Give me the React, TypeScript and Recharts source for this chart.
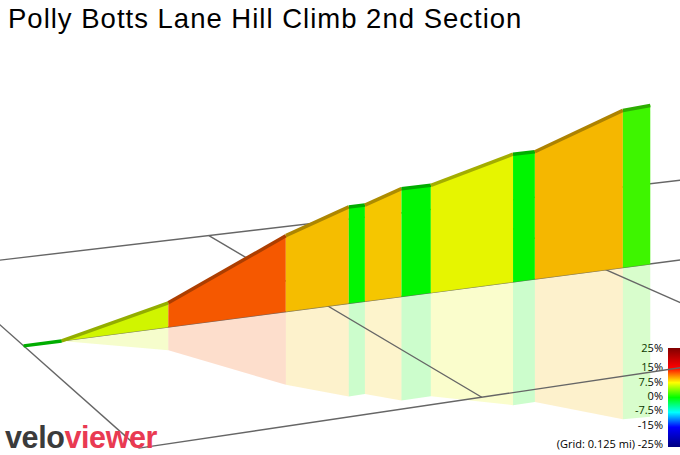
import { ComposedChart, Area, Line, XAxis, YAxis } from 'recharts'

const W = 680
const H = 455

const title = 'Polly Botts Lane Hill Climb 2nd Section'
const gridNote = '(Grid: 0.125 mi)'

// climb profile: distance (mi) and height above the start (m) at each change of gradient
const distMi = [0, 0.015, 0.058, 0.107, 0.134, 0.141, 0.157, 0.17, 0.207, 0.217, 0.258, 0.271]
const elevM = [0, 0, 4.4, 14.1, 18.1, 18.1, 20.4, 20.4, 24.6, 24.6, 30.8, 31.2]

// legend ticks, %
const gradeTicks = [25, 15, 7.5, 0, -7.5, -15, -25]

// gradient colour ramp
const rampGrades = [25, 15, 7.5, 0, -7.5, -15, -25]
const rampColors = ['#800000', '#ff0000', '#ffff00', '#00ff00', '#00ffff', '#0000ff', '#000080']

// ground grid, in 0.125 mi cells (along = parallel to the climb)
const gridMi = 0.125
const alongLines = [-1, 0, 1]
const acrossLines = [0, 1, 2]
const alongSpan = [0, 4]
const acrossSpan = [-1, 1]

// camera: ground grid points and where they land on screen
const viewGround = [[0, 0], [1, 0], [2, 0], [1, -1], [1, 1], [0, 1], [2, 1]]
const viewScreen = [[22, 347], [328, 305], [605, 271], [210, 235], [480, 397], [141, 448], [792, 351]]
const pxPerMetre = 5.6
const mirrorScale = 0.965

function solve(A: number[][], b: number[]) {
  const n = b.length
  const M = A.map((r, i) => [...r, b[i]])
  for (let c = 0; c < n; c++) {
    let p = c
    for (let r = c + 1; r < n; r++) if (Math.abs(M[r][c]) > Math.abs(M[p][c])) p = r
    const tmp = M[c]
    M[c] = M[p]
    M[p] = tmp
    for (let r = 0; r < n; r++) {
      if (r === c) continue
      const f = M[r][c] / M[c][c]
      for (let k = c; k <= n; k++) M[r][k] -= f * M[c][k]
    }
  }
  return M.map((r, i) => r[n] / r[i])
}

// least-squares homography from the calibration points
function fitView() {
  const A: number[][] = []
  const b: number[] = []
  viewGround.forEach(([u, v], i) => {
    const [x, y] = viewScreen[i]
    A.push([u, v, 1, 0, 0, 0, -u * x, -v * x])
    b.push(x)
    A.push([0, 0, 0, u, v, 1, -u * y, -v * y])
    b.push(y)
  })
  const AtA = Array.from({ length: 8 }, (_, r) =>
    Array.from({ length: 8 }, (_, c) => A.reduce((s, row) => s + row[r] * row[c], 0)),
  )
  const Atb = Array.from({ length: 8 }, (_, r) => A.reduce((s, row, k) => s + row[r] * b[k], 0))
  return solve(AtA, Atb)
}

const hm = fitView()
function project(u: number, v: number) {
  const w = hm[6] * u + hm[7] * v + 1
  return { x: (hm[0] * u + hm[1] * v + hm[2]) / w, y: (hm[3] * u + hm[4] * v + hm[5]) / w, w }
}
const w0 = project(0, 0).w

const hexRgb = (h: string) => [1, 3, 5].map((i) => parseInt(h.slice(i, i + 2), 16))
const rgbHex = (c: number[]) =>
  '#' + c.map((v) => Math.max(0, Math.min(255, Math.round(v))).toString(16).padStart(2, '0')).join('')

function gradeRgb(g: number) {
  const x = Math.max(-25, Math.min(25, g))
  for (let i = 0; i < rampGrades.length - 1; i++) {
    const hi = rampGrades[i]
    const lo = rampGrades[i + 1]
    if (x <= hi && x >= lo) {
      const t = (hi - x) / (hi - lo)
      const a = hexRgb(rampColors[i])
      const b = hexRgb(rampColors[i + 1])
      return a.map((v, k) => v + (b[k] - v) * t)
    }
  }
  return [0, 255, 0]
}

const pts = distMi.map((d, i) => {
  const p = project(d / gridMi, 0)
  const h = (elevM[i] * pxPerMetre * w0) / p.w
  return { x: p.x, base: p.y, top: p.y - h, refl: p.y + h * mirrorScale }
})

const segs = pts.slice(1).map((p, i) => {
  const q = pts[i]
  const run = (distMi[i + 1] - distMi[i]) * 1609.34
  const grade = ((elevM[i + 1] - elevM[i]) / run) * 100
  const rgb = gradeRgb(grade)
  return {
    face: rgbHex(rgb.map((v) => v * 0.96)),
    ridge: rgbHex(rgb.map((v) => v * 0.68)),
    data: [
      { x: q.x, face: [q.base, q.top], mirror: [q.refl, q.base], top: q.top },
      { x: p.x, face: [p.base, p.top], mirror: [p.refl, p.base], top: p.top },
    ],
  }
})

const gridLines = [
  ...alongLines.map((v) => alongSpan.map((u) => project(u, v))),
  ...acrossLines.map((u) => acrossSpan.map((v) => project(u, v))),
]

const barTop = 348
const barScale = 96
const tickY = (g: number) => barTop + ((25 - g) / 50) * barScale + 4

export default function App() {
  return (
    <div style={{ position: 'relative', width: W, height: H, overflow: 'hidden' }}>
      <style>{'body{margin:0}'}</style>
      <svg width={W} height={H} style={{ position: 'absolute', left: 0, top: 0 }}>
        <defs>
          <linearGradient id="ramp" x1="0" y1="0" x2="0" y2="1">
            {rampGrades.map((g, i) => (
              <stop key={g} offset={(25 - g) / 50} stopColor={rampColors[i]} />
            ))}
          </linearGradient>
        </defs>
        <rect x={668} y={barTop} width={12} height={99} fill="url(#ramp)" />
        {gradeTicks.map((g) => (
          <text
            key={g}
            x={663}
            y={tickY(g)}
            textAnchor="end"
            fontSize={11}
            fontFamily="'Open Sans', sans-serif"
            fill="#000"
          >
            {g === -25 ? `${gridNote} ${g}%` : `${g}%`}
          </text>
        ))}
        <text x={8} y={28} fontSize={27.5} letterSpacing={1} fontFamily="'Liberation Sans', Arial, sans-serif" fill="#000">
          {title}
        </text>
      </svg>
      <div style={{ position: 'absolute', left: 0, top: 0 }}>
        <ComposedChart width={W} height={H} margin={{ top: 0, right: 0, bottom: 0, left: 0 }}>
          <XAxis type="number" dataKey="x" domain={[0, W]} allowDataOverflow hide />
          <YAxis type="number" domain={[0, H]} reversed allowDataOverflow hide />
          {segs.map((s, i) => (
            <Area
              key={`m${i}`}
              data={s.data}
              dataKey="mirror"
              type="linear"
              stroke="none"
              fill={s.face}
              fillOpacity={0.2}
              dot={false}
              activeDot={false}
              isAnimationActive={false}
              zIndex={100}
            />
          ))}
          {gridLines.map((l, i) => (
            <Line
              key={`g${i}`}
              data={l}
              dataKey="y"
              type="linear"
              stroke="#666666"
              strokeWidth={1.4}
              dot={false}
              activeDot={false}
              isAnimationActive={false}
              zIndex={150}
            />
          ))}
          {segs.map((s, i) => (
            <Area
              key={`f${i}`}
              data={s.data}
              dataKey="face"
              type="linear"
              stroke={s.face}
              strokeWidth={0.5}
              fill={s.face}
              fillOpacity={1}
              dot={false}
              activeDot={false}
              isAnimationActive={false}
              zIndex={200}
            />
          ))}
          {segs.map((s, i) => (
            <Line
              key={`r${i}`}
              data={s.data}
              dataKey="top"
              type="linear"
              stroke={s.ridge}
              strokeWidth={3.5}
              dot={false}
              activeDot={false}
              isAnimationActive={false}
              zIndex={250}
            />
          ))}
        </ComposedChart>
      </div>
      <svg width={W} height={H} style={{ position: 'absolute', left: 0, top: 0, pointerEvents: 'none' }}>
        <text x={5} y={448} fontSize={30.5} fontWeight="bold" letterSpacing={-0.4} fontFamily="'Liberation Sans', Arial, sans-serif">
          <tspan fill="#3b3b3b">velo</tspan>
          <tspan fill="#e93a52">viewer</tspan>
        </text>
      </svg>
    </div>
  )
}
